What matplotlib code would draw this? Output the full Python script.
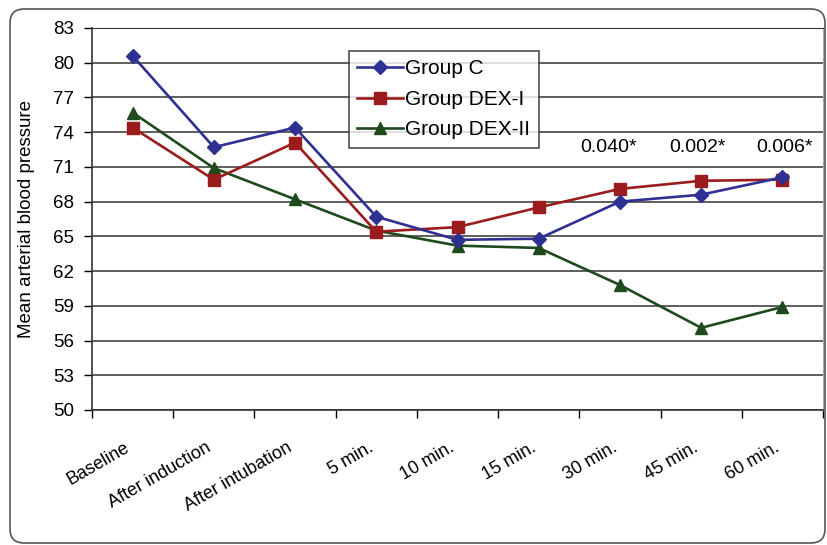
import matplotlib
matplotlib.use("Agg")
import matplotlib.pyplot as plt
from matplotlib.patches import FancyBboxPatch
from matplotlib.transforms import IdentityTransform, ScaledTranslation

plt.rcParams['font.family'] = ['Liberation Sans', 'DejaVu Sans']

# data
categories = ["Baseline", "After induction", "After intubation", "5 min.", "10 min.",
              "15 min.", "30 min.", "45 min.", "60 min."]
group_c = [80.6, 72.7, 74.4, 66.7, 64.7, 64.8, 68.0, 68.6, 70.1]
group_dex1 = [74.4, 69.9, 73.1, 65.4, 65.8, 67.5, 69.1, 69.8, 69.9]
group_dex2 = [75.7, 70.9, 68.2, 65.5, 64.2, 64.0, 60.8, 57.1, 58.9]
p_labels = {6: "0.040*", 7: "0.002*", 8: "0.006*"}
y_ticks = list(range(50, 84, 3))

fig = plt.figure(figsize=(8.27, 5.45), dpi=100)
ax = fig.add_axes([92 / 827, 1 - 410 / 545, 731 / 827, 382 / 545])

x = list(range(len(categories)))
ax.plot(x, group_c, color="#2E3192", marker="D", markersize=7, lw=1.9, label="Group C", zorder=5)
ax.plot(x, group_dex1, color="#9B1C1C", marker="s", markersize=9, lw=1.9, label="Group DEX-I", zorder=4)
ax.plot(x, group_dex2, color="#1E4A1E", marker="^", markersize=9, lw=1.9, label="Group DEX-II", zorder=3)

# p-values, nudged a bit like in the original
nudge = {6: -0.14, 7: -0.05, 8: 0.02}
for i, s in p_labels.items():
    ax.text(i + nudge[i], 72.7, s, ha="center", va="center", fontsize=14)

ax.set_xlim(-0.5, len(categories) - 0.5)
ax.set_ylim(50, 83)
ax.set_yticks(y_ticks)
ax.yaxis.grid(True, color="#333333", lw=1.1)
ax.set_axisbelow(True)
ax.tick_params(axis="y", labelsize=13.5, length=6, width=1, pad=7)

# category axis: ticks between categories, labels at centres
ax.set_xticks([i - 0.5 for i in range(len(categories) + 1)])
ax.set_xticklabels([])
ax.set_xticks(x, minor=True)
ax.set_xticklabels(categories, minor=True)
ax.tick_params(axis="x", which="major", length=6, width=1)
ax.tick_params(axis="x", which="minor", length=0, pad=21, labelsize=13)
shift = ScaledTranslation(-6 / 72, 0, fig.dpi_scale_trans)
for lab in ax.get_xticklabels(minor=True):
    lab.set_rotation(30)
    lab.set_ha("right")
    lab.set_va("top")
    lab.set_rotation_mode("anchor")
    lab.set_transform(lab.get_transform() + shift)

for side in ["left", "bottom"]:
    ax.spines[side].set_color("#333333")
    ax.spines[side].set_linewidth(1.2)
ax.spines["top"].set_color("#333333")
ax.spines["right"].set_color("#aaaaaa")

ax.set_ylabel("Mean arterial blood pressure", fontsize=13.5)
ax.yaxis.set_label_coords(-0.078, 0.5)

leg = ax.legend(loc="upper left", bbox_to_anchor=(349 / 827, 1 - 51 / 545),
                bbox_transform=fig.transFigure, borderaxespad=0, fancybox=False,
                frameon=True, edgecolor="#222222", fontsize=15, handlelength=2.2,
                handletextpad=0.1, labelspacing=0.55, borderpad=0.4)
leg.get_frame().set_linewidth(1.2)

# rounded outer frame
frame = FancyBboxPatch((10, 2), 815, 534, boxstyle="round,pad=0,rounding_size=14",
                       transform=IdentityTransform(), fill=False, edgecolor="#555555", lw=1.2)
fig.add_artist(frame)

fig.savefig("out.png", dpi=100)
